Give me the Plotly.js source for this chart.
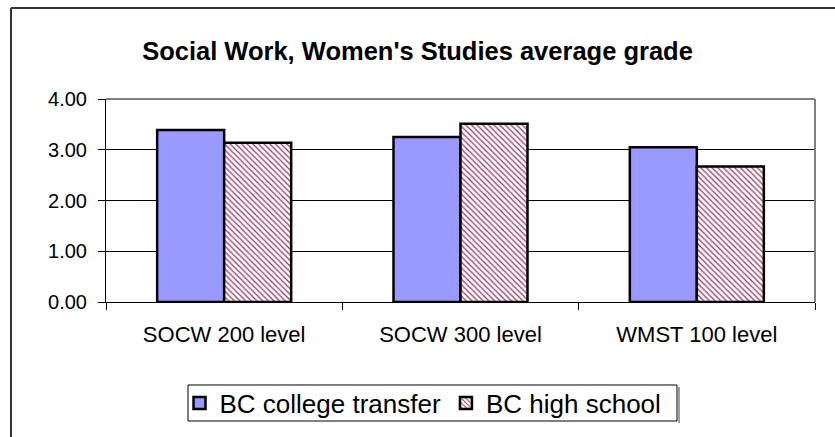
<!DOCTYPE html>
<html>
<head>
<meta charset="utf-8">
<script src="https://cdn.plot.ly/plotly-3.0.1.min.js"></script>
<style>
  html, body { margin: 0; padding: 0; background: #fff; }
  #chart { width: 835px; height: 437px; }
</style>
</head>
<body>
<div id="chart"></div>
<script>
const categories = ["SOCW 200 level", "SOCW 300 level", "WMST 100 level"];
const seriesNames = ["BC college transfer", "BC high school"];
const collegeTransfer = [3.39, 3.25, 3.05];
const highSchool = [3.14, 3.51, 2.67];
const yTickVals = [0, 1, 2, 3, 4];
const yTickText = ["0.00", "1.00", "2.00", "3.00", "4.00"];

const FONT = "Liberation Sans, Arial, sans-serif";

const traces = [
  {
    type: "bar",
    name: seriesNames[0],
    x: categories,
    y: collegeTransfer,
    marker: { color: "#9999FF", line: { color: "#000000", width: 2.5 } },
    hoverinfo: "skip"
  },
  {
    type: "bar",
    name: seriesNames[1],
    x: categories,
    y: highSchool,
    marker: {
      color: "#FFFFFF",
      line: { color: "#000000", width: 2.5 },
      pattern: { shape: "\\", fgcolor: "#993366", bgcolor: "#FFFFFF", size: 4, solidity: 0.3 }
    },
    hoverinfo: "skip"
  }
];

const L = 106, R = 20, T = 99, B = 135;
const W = 835 - L - R, H = 437 - T - B;
function px(x) { return (x - L) / W; }
function py(y) { return (437 - B - y) / H; }

const layout = {
  width: 835,
  height: 437,
  margin: { l: L, r: R, t: T, b: B, pad: 0, autoexpand: false },
  paper_bgcolor: "#FFFFFF",
  plot_bgcolor: "#FFFFFF",
  font: { family: FONT, color: "#000000", size: 20 },
  title: {
    text: "<b>Social Work, Women's Studies average grade</b>",
    font: { family: FONT, size: 25.5, color: "#000000" },
    x: 0.5, xref: "container", xanchor: "center",
    y: 1 - 51 / 437, yref: "container", yanchor: "middle"
  },
  barmode: "group",
  bargap: 0.433,
  bargroupgap: 0,
  showlegend: true,
  legend: {
    orientation: "h",
    xref: "container", yref: "container",
    x: 423 / 835, xanchor: "center",
    y: 1 - 403 / 437, yanchor: "middle",
    borderwidth: 0,
    bgcolor: "rgba(0,0,0,0)",
    font: { family: FONT, size: 26, color: "#000000" },
    itemwidth: 30,
    tracegroupgap: 0
  },
  xaxis: {
    type: "category",
    range: [-0.5, 2.5],
    showline: true, linecolor: "#000000", linewidth: 1,
    ticks: "outside", tickson: "boundaries", ticklen: 7, tickcolor: "#000000", tickwidth: 1,
    ticklabelstandoff: 13,
    showgrid: false, zeroline: false,
    tickfont: { family: FONT, size: 22, color: "#000000" },
    fixedrange: true
  },
  yaxis: {
    range: [0, 4],
    tickvals: yTickVals,
    ticktext: yTickText,
    showline: true, linecolor: "#000000", linewidth: 1,
    ticks: "outside", ticklen: 7, tickcolor: "#000000", tickwidth: 1,
    ticklabelstandoff: 7,
    showgrid: true, gridcolor: "#000000", gridwidth: 1,
    zeroline: false,
    tickfont: { family: FONT, size: 20, color: "#000000" },
    fixedrange: true
  },
  shapes: [
    { type: "line", xref: "paper", yref: "paper", x0: 0, x1: 1, y0: 1, y1: 1,
      line: { color: "#808080", width: 2 } },
    { type: "line", xref: "paper", yref: "paper", x0: 1, x1: 1, y0: 0, y1: 1,
      line: { color: "#808080", width: 2 } },
    { type: "line", xref: "paper", yref: "paper", x0: px(11), x1: px(840), y0: py(8), y1: py(8),
      line: { color: "#333333", width: 2 } },
    { type: "line", xref: "paper", yref: "paper", x0: px(11), x1: px(11), y0: py(8), y1: py(445),
      line: { color: "#333333", width: 2 } },
    { type: "line", xref: "paper", yref: "paper", x0: px(679), x1: px(679), y0: py(387), y1: py(423),
      line: { color: "#A0A0A0", width: 2 } },
    { type: "rect", xref: "paper", yref: "paper", x0: px(188), x1: px(677), y0: py(385), y1: py(421),
      line: { color: "#000000", width: 1 }, fillcolor: "rgba(0,0,0,0)" }
  ]
};

Plotly.newPlot("chart", traces, layout, { displayModeBar: false, staticPlot: true });
</script>
</body>
</html>
